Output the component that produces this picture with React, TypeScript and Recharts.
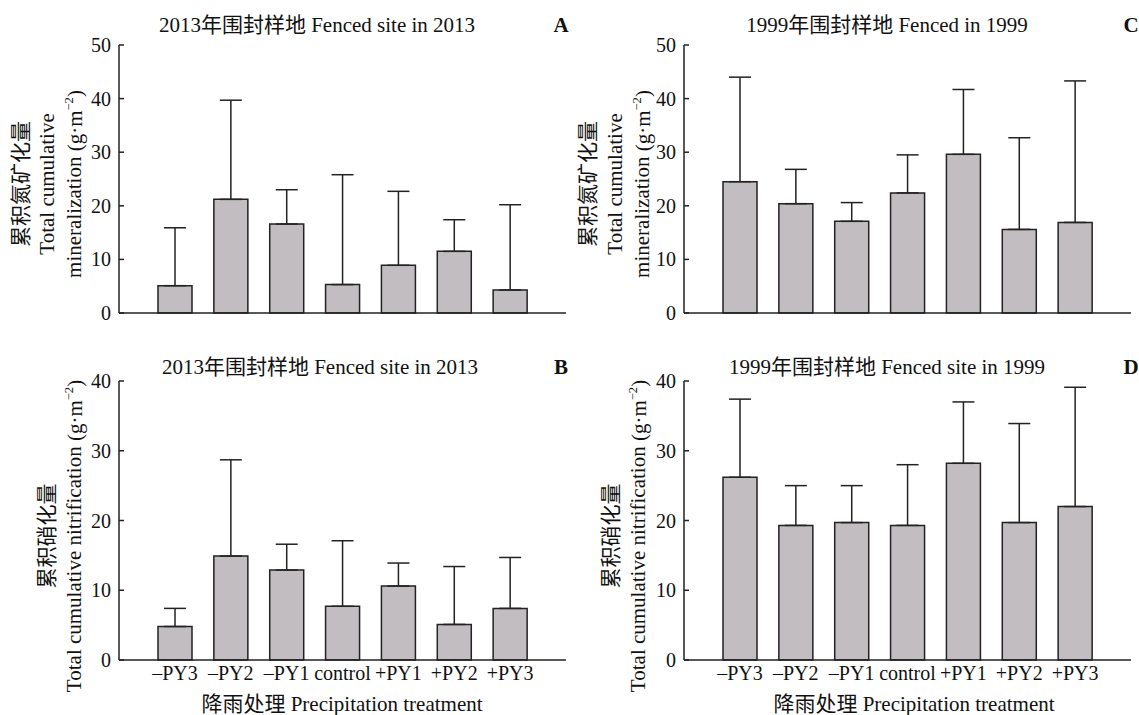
import React from "react";
import { BarChart, Bar, XAxis, YAxis, ErrorBar } from "recharts";

const categories = ["–PY3", "–PY2", "–PY1", "control", "+PY1", "+PY2", "+PY3"];

// A: 2013 mineralization
const mineral2013 = [5.1, 21.2, 16.6, 5.3, 8.9, 11.5, 4.3];
const mineral2013Sd = [10.8, 18.5, 6.4, 20.5, 13.8, 5.9, 15.9];
// C: 1999 mineralization
const mineral1999 = [24.5, 20.4, 17.1, 22.4, 29.6, 15.6, 16.9];
const mineral1999Sd = [19.5, 6.4, 3.5, 7.1, 12.1, 17.1, 26.4];
// B: 2013 nitrification
const nitri2013 = [4.8, 14.9, 12.9, 7.7, 10.6, 5.1, 7.4];
const nitri2013Sd = [2.6, 13.8, 3.7, 9.4, 3.3, 8.3, 7.3];
// D: 1999 nitrification
const nitri1999 = [26.2, 19.3, 19.7, 19.3, 28.2, 19.7, 22.0];
const nitri1999Sd = [11.2, 5.7, 5.3, 8.7, 8.8, 14.2, 17.1];

const ticks50 = [0, 10, 20, 30, 40, 50];
const ticks40 = [0, 10, 20, 30, 40];

const FONT = '"Liberation Serif", "Times New Roman", "Noto Sans CJK SC", serif';
const INK = "#222";
const FS = 20; // tick labels
const LFS = 21; // titles and axis labels

const rows = (vals: number[], sd: number[]) =>
  categories.map((c, i) => ({ name: c, value: vals[i], err: [0, sd[i]] }));

const YTick = (props: any) => {
  const { x, y, payload } = props;
  return (
    <g>
      <line x1={x + 8} x2={x + 13} y1={y} y2={y} stroke={INK} strokeWidth={1.5} />
      <text x={x} y={y} dy="0.35em" textAnchor="end" fontFamily={FONT} fontSize={FS} fill="#111">
        {payload.value}
      </text>
    </g>
  );
};

interface PanelProps {
  left: number;
  top: number;
  width: number;
  height: number;
  marginLeft: number;
  marginRight: number;
  marginTop: number;
  marginBottom: number;
  showX: boolean;
  data: any[];
  max: number;
  ticks: number[];
}

function Panel(p: PanelProps) {
  return (
    <div style={{ position: "absolute", left: p.left, top: p.top }}>
      <BarChart
        width={p.width}
        height={p.height}
        data={p.data}
        margin={{ top: p.marginTop, right: p.marginRight, left: p.marginLeft, bottom: p.marginBottom }}
        barSize={34}
      >
        <XAxis
          dataKey="name"
          interval={0}
          padding={{ left: 28, right: 28 }}
          axisLine={{ stroke: INK, strokeWidth: 1.5 }}
          tickLine={false}
          tickSize={0}
          tickMargin={6}
          height={p.showX ? 30 : 10}
          tick={p.showX ? { fill: "#111", fontFamily: FONT, fontSize: FS } : false}
        />
        <YAxis
          width={60}
          domain={[0, p.max]}
          ticks={p.ticks}
          interval={0}
          axisLine={{ stroke: INK, strokeWidth: 1.5 }}
          tickLine={false}
          tickSize={0}
          tickMargin={8}
          tick={<YTick />}
        />
        <Bar dataKey="value" fill="#c1bdc1" stroke={INK} strokeWidth={1.5} isAnimationActive={false}>
          <ErrorBar dataKey="err" width={11} stroke={INK} strokeWidth={1.5} direction="y" isAnimationActive={false} />
        </Bar>
      </BarChart>
    </div>
  );
}

const Txt = ({ x, y, bold, children }: { x: number; y: number; bold?: boolean; children: React.ReactNode }) => (
  <div
    style={{
      position: "absolute",
      left: x,
      top: y,
      transform: "translate(-50%, -50%)",
      whiteSpace: "nowrap",
      fontFamily: FONT,
      fontSize: LFS,
      fontWeight: bold ? "bold" : "normal",
      lineHeight: 1,
      color: "#111",
    }}
  >
    {children}
  </div>
);

const VTxt = ({ x, y, children }: { x: number; y: number; children: React.ReactNode }) => (
  <div
    style={{
      position: "absolute",
      left: x,
      top: y,
      transform: "translate(-50%, -50%) rotate(-90deg)",
      whiteSpace: "nowrap",
      fontFamily: FONT,
      fontSize: LFS,
      lineHeight: 1,
      color: "#111",
    }}
  >
    {children}
  </div>
);

const Unit = () => (
  <span>
    (g·m<span style={{ fontSize: "0.6em", verticalAlign: "0.7em" }}>−2</span>)
  </span>
);

export default function App() {
  return (
    <div style={{ position: "absolute", left: 0, top: 0, width: 1139, height: 715, background: "#fff", overflow: "hidden" }}>
      <Panel left={0} top={0} width={570} height={330} marginLeft={59} marginRight={4} marginTop={45} marginBottom={7}
        showX={false} data={rows(mineral2013, mineral2013Sd)} max={50} ticks={ticks50} />
      <Panel left={570} top={0} width={569} height={330} marginLeft={54} marginRight={8} marginTop={45} marginBottom={7}
        showX={false} data={rows(mineral1999, mineral1999Sd)} max={50} ticks={ticks50} />
      <Panel left={0} top={340} width={570} height={375} marginLeft={59} marginRight={4} marginTop={41} marginBottom={25}
        showX={true} data={rows(nitri2013, nitri2013Sd)} max={40} ticks={ticks40} />
      <Panel left={570} top={340} width={569} height={375} marginLeft={54} marginRight={8} marginTop={41} marginBottom={25}
        showX={true} data={rows(nitri1999, nitri1999Sd)} max={40} ticks={ticks40} />

      <Txt x={317} y={25}>2013年围封样地 Fenced site in 2013</Txt>
      <Txt x={561} y={25} bold>A</Txt>
      <Txt x={887} y={25}>1999年围封样地 Fenced in 1999</Txt>
      <Txt x={1131} y={25} bold>C</Txt>
      <Txt x={320} y={367}>2013年围封样地 Fenced site in 2013</Txt>
      <Txt x={561} y={367} bold>B</Txt>
      <Txt x={887} y={367}>1999年围封样地 Fenced site in 1999</Txt>
      <Txt x={1131} y={367} bold>D</Txt>

      <Txt x={342} y={704}>降雨处理 Precipitation treatment</Txt>
      <Txt x={914} y={704}>降雨处理 Precipitation treatment</Txt>

      <VTxt x={21} y={184}>累积氮矿化量</VTxt>
      <VTxt x={47} y={184}>Total cumulative</VTxt>
      <VTxt x={74} y={184}>mineralization <Unit /></VTxt>

      <VTxt x={588} y={184}>累积氮矿化量</VTxt>
      <VTxt x={615} y={184}>Total cumulative</VTxt>
      <VTxt x={642} y={184}>mineralization <Unit /></VTxt>

      <VTxt x={47} y={536}>累积硝化量</VTxt>
      <VTxt x={74} y={536}>Total cumulative nitrification <Unit /></VTxt>

      <VTxt x={611} y={536}>累积硝化量</VTxt>
      <VTxt x={638} y={536}>Total cumulative nitrification <Unit /></VTxt>
    </div>
  );
}
